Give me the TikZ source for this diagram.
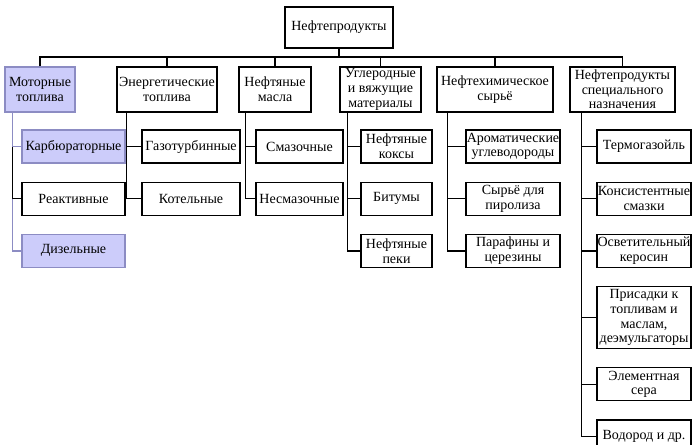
\documentclass[tikz,border=0pt]{standalone}
\usepackage{fontspec}
\setmainfont{Liberation Serif}
\usetikzlibrary{calc, positioning}
\definecolor{lav}{RGB}{204,204,250}
\definecolor{lavline}{RGB}{140,140,195}
\tikzstyle{rootbox} = [rectangle, draw=black, line width=1.2pt, minimum width=108pt,
minimum height=41pt, align=center, inner sep=0.5pt, font=\fontsize{14}{14.7}\selectfont]
\tikzstyle{kindbox} = [rectangle, draw=black, line width=1.2pt, minimum height=45pt,
align=center, inner sep=0.5pt, font=\fontsize{14}{14.7}\selectfont]
\tikzstyle{itembox} = [rectangle, draw=black, line width=1.2pt, minimum height=33pt,
align=center, inner sep=0.5pt, font=\fontsize{14}{14.7}\selectfont]
\tikzstyle{marked} = [fill=lav, draw=lavline]
\tikzstyle{link} = [line width=1.2pt, draw=black]
\tikzstyle{marklink} = [line width=1.2pt, draw=lavline]

\begin{document}
\begin{tikzpicture}[x=1pt, y=-1pt, node distance=18pt]
      \useasboundingbox (0,0) rectangle (692,444);
      \node (root) [rootbox] at (339,27.5) {Нефтепродукты};
      \coordinate (bus) at (0,57);

      \node (mot) [kindbox, marked, minimum width=70pt] at (40,89.5) {Моторные\\топлива};
      \node (ener) [kindbox, minimum width=100pt] at (167,89.5) {Энергетические\\топлива};
      \node (masl) [kindbox, minimum width=72pt] at (275,89.5) {Нефтяные\\масла};
      \node (ugl) [kindbox, minimum width=81pt] at (380.5,89.5) {Углеродные\\и вяжущие\\материалы};
      \node (him) [kindbox, minimum width=116pt] at (495,89.5) {Нефтехимическое\\сырьё};
      \node (spec) [kindbox, minimum width=105pt] at (622.5,89.5) {Нефтепродукты\\специального\\назначения};

      \node (karb) [itembox, marked, minimum width=103pt] at (73.5,146.5) {Карбюраторные};
      \node (reak) [itembox, minimum width=103pt, below=of karb] {Реактивные};
      \node (diz) [itembox, marked, minimum width=103pt, below=of reak] {Дизельные};

      \node (gaz) [itembox, minimum width=98pt] at (191,146.5) {Газотурбинные};
      \node (kot) [itembox, minimum width=98pt, below=of gaz] {Котельные};

      \node (smaz) [itembox, minimum width=87pt] at (299.5,146.5) {Смазочные};
      \node (nesmaz) [itembox, minimum width=87pt, below=of smaz] {Несмазочные};

      \node (koks) [itembox, minimum width=71pt] at (396.5,146.5) {Нефтяные\\коксы};
      \node (bit) [itembox, minimum width=71pt, below=of koks] {Битумы};
      \node (pek) [itembox, minimum width=71pt, below=of bit] {Нефтяные\\пеки};

      \node (arom) [itembox, minimum width=94pt] at (513,146.5) {Ароматические\\углеводороды};
      \node (pir) [itembox, minimum width=94pt, below=of arom] {Сырьё для\\пиролиза};
      \node (par) [itembox, minimum width=94pt, below=of pir] {Парафины и\\церезины};

      \node (term) [itembox, minimum width=94pt] at (644,146.5) {Термогазойль};
      \node (kons) [itembox, minimum width=94pt, below=of term] {Консистентные\\смазки};
      \node (osv) [itembox, minimum width=94pt, below=of kons] {Осветительный\\керосин};
      \node (pris) [itembox, minimum width=94pt, minimum height=62pt, below=of osv] {Присадки к\\топливам и\\маслам,\\деэмульгаторы};
      \node (elem) [itembox, minimum width=94pt, below=of pris] {Элементная\\сера};
      \node (vod) [itembox, minimum width=94pt, below=of elem] {Водород и др.};

      \draw [link] (root.south) -- (root.south |- bus);
      \draw [link] (mot.north) |- (spec.north |- bus) -- (spec.north);
      \draw [link] (ener.north) -- (ener.north |- bus);
      \draw [link] (masl.north) -- (masl.north |- bus);
      \draw [link] (ugl.north) -- (ugl.north |- bus);
      \draw [link] (him.north) -- (him.north |- bus);

      \coordinate (t1) at ($(mot.south west)+(8,0)$);
      \coordinate (t2) at ($(ener.south west)+(10,0)$);
      \coordinate (t3) at ($(masl.south west)+(7,0)$);
      \coordinate (t4) at ($(ugl.south west)+(8,0)$);
      \coordinate (t5) at ($(him.south west)+(11,0)$);
      \coordinate (t6) at ($(spec.south west)+(12,0)$);

      \draw [marklink] (t1) |- (karb);
      \draw [link] (t1 |- karb.west) |- (reak);
      \draw [marklink] (t1 |- reak.west) |- (diz);
      \draw [link] (t2) |- (gaz);
      \draw [link] (t2) |- (kot);
      \draw [link] (t3) |- (smaz);
      \draw [link] (t3) |- (nesmaz);
      \draw [link] (t4) |- (koks);
      \draw [link] (t4) |- (bit);
      \draw [link] (t4) |- (pek);
      \draw [link] (t5) |- (arom);
      \draw [link] (t5) |- (pir);
      \draw [link] (t5) |- (par);
      \draw [link] (t6) |- (term);
      \draw [link] (t6) |- (kons);
      \draw [link] (t6) |- (osv);
      \draw [link] (t6) |- (pris);
      \draw [link] (t6) |- (elem);
      \draw [link] (t6) |- (vod);
    \end{tikzpicture}
\end{document}
